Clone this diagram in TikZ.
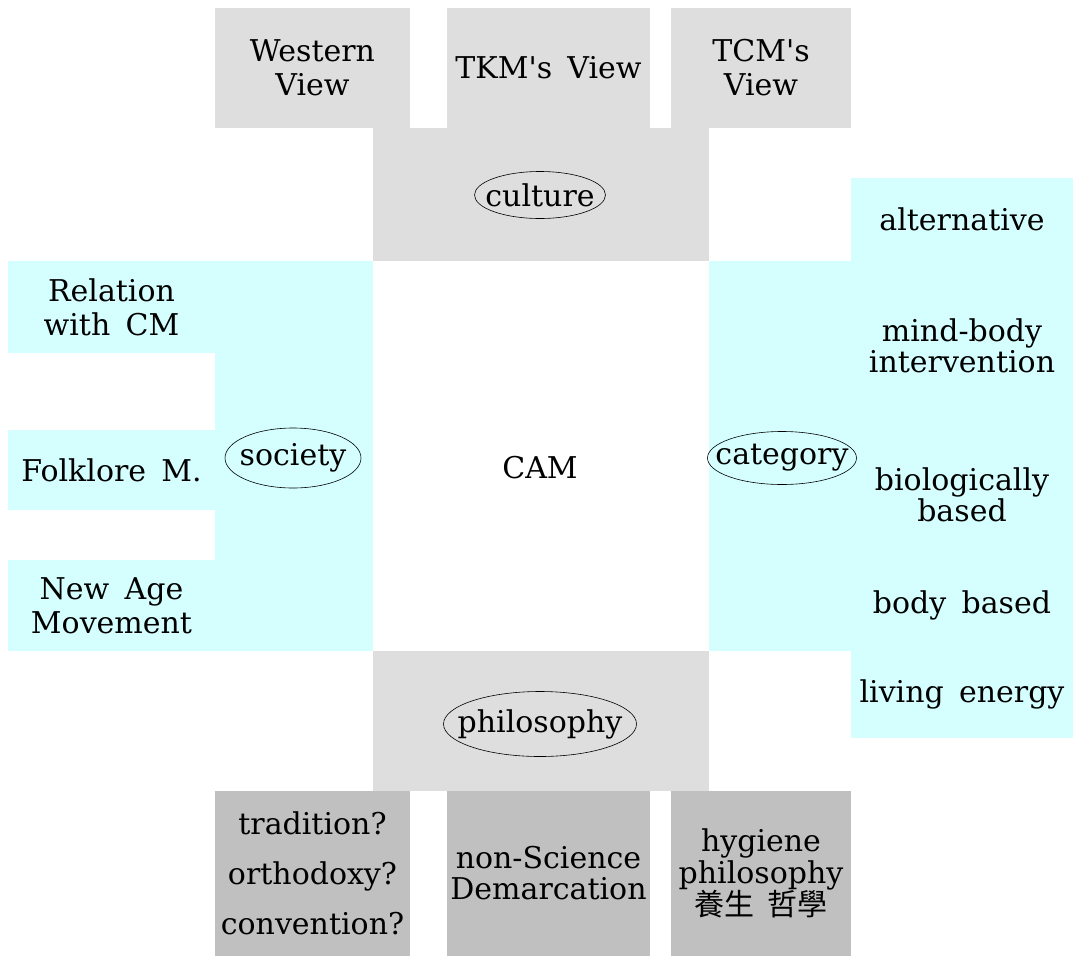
\documentclass[tikz,border=0pt]{standalone}
\usepackage{fontspec}
\setmainfont{DejaVu Serif}[WordSpace=1.6, Ligatures=TeXOff]
\newfontfamily\cjkfont{Noto Sans CJK TC}[WordSpace=2]
\usetikzlibrary{shapes.geometric}
\definecolor{lightgrey}{RGB}{222,222,222}
\definecolor{darkgrey}{RGB}{192,192,192}
\definecolor{lightcyan}{RGB}{213,255,255}

\begin{document}
\begin{tikzpicture}[
                x=1pt, y=-1pt,
                every node/.append style={inner sep=0pt, align=center,
                    font=\fontsize{30}{34}\selectfont},
                cell/.style args={#1/#2}{rectangle, minimum width=#1, minimum height=#2},
                grey/.style={fill=lightgrey},
                dark/.style={fill=darkgrey},
                cyan/.style={fill=lightcyan},
                oval/.style args={#1/#2}{ellipse, draw, line width=0.6pt, inner xsep=-30pt, inner ysep=-14pt,
                    minimum width=#1, minimum height=#2}
            ]
                \useasboundingbox (0,0) rectangle (1073,956);
                % top row
                \node (west) [grey, cell=195/120] at (312.5,68)  {Western\\View};
                \node (tkm)  [grey, cell=203/120] at (548.5,68)  {TKM's View};
                \node (tcm)  [grey, cell=180/120] at (761,68)    {TCM's\\View};
                \node (culture) [grey, cell=336/133] at (541,194.5) {};
                % left side
                \node (relation) [cyan, cell=207/92] at (111.5,307)   {Relation\\with CM};
                \node (folk)     [cyan, cell=207/80] at (111.5,470)   {Folklore M.};
                \node (newage)   [cyan, cell=207/91] at (111.5,605.5) {New Age\\Movement};
                \node (society)  [cyan, cell=158/390] at (294,456) {};
                % middle
                \node (cam) at (540,468) {CAM};
                % right side
                \node (category) [cyan, cell=142/390] at (780,456) {};
                \node (alt)      [cyan, cell=222/83]  at (962,219.5) {alternative};
                \node (mindbody) [cyan, cell=222/169] at (962,345.5) {mind-body\\[-3pt]intervention};
                \node (bio)      [cyan, cell=222/130] at (962,495)   {biologically\\[-3pt]based};
                \node (bodyb)    [cyan, cell=222/91]  at (962,605.5) {body based};
                \node (living)   [cyan, cell=222/87]  at (962,694.5) {living energy};
                % bottom row
                \node (philo) [grey, cell=336/140] at (541,721) {};
                \node (trad)   [dark, cell=195/165] at (312.5,873.5) {tradition?\\[16pt]orthodoxy?\\[16pt]convention?};
                \node (nonsci) [dark, cell=203/165] at (548.5,873.5) {non-Science\\[-3pt]Demarcation};
                \node (hyg)    [dark, cell=180/165] at (761,873.5) {hygiene\\[-2pt]philosophy\\[-2pt]{\cjkfont 養生 哲學}};
                % the four headings
                \node (cultureO)  [oval=131/47]  at (540,195) {culture};
                \node (societyO)  [oval=136/60]  at (293,458) {society};
                \node (categoryO) [oval=149/53]  at (782,458) {category};
                \node (philoO)    [oval=193/65]  at (540,724) {philosophy};
            \end{tikzpicture}
\end{document}
